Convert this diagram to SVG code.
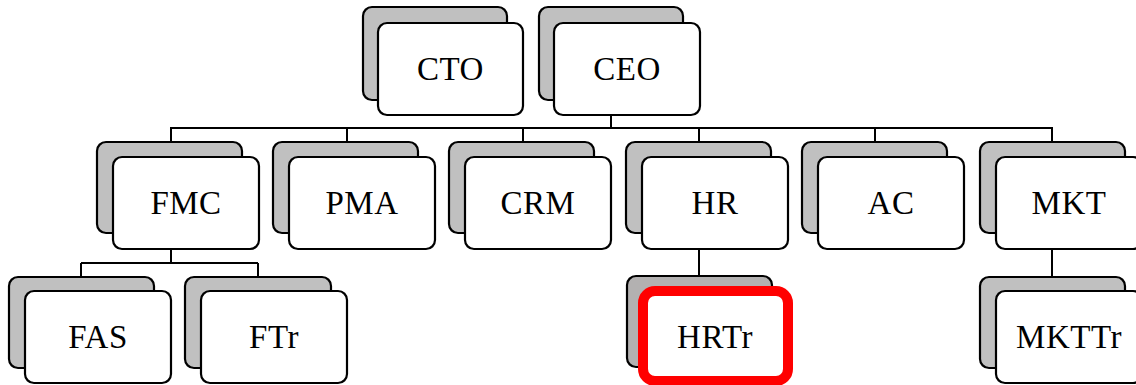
<svg xmlns="http://www.w3.org/2000/svg" width="1136" height="385" viewBox="0 0 1136 385">
  <style>
    .back { fill: #c0c0c0; stroke: #000; stroke-width: 2.2; }
    .front { fill: #fff; stroke: #000; stroke-width: 2.2; }
    .hl { fill: #fff; stroke: #ff0000; stroke-width: 10; }
    .lbl { font-family: "Liberation Serif", "Times New Roman", serif; font-size: 33px; letter-spacing: 0.5px; fill: #000; text-anchor: middle; }
    .conn { fill: none; stroke: #000; stroke-width: 2; }
  </style>
  <rect width="1136" height="385" fill="#fff"/>

  <!-- connectors -->
  <g id="connectors">
    <path class="conn" d="M611 115 V128 M170 128 H1053 M171 128 V142 M347 128 V142 M523 128 V142 M699 128 V142 M875 128 V142 M1052 128 V142"/>
    <path class="conn" d="M171 249 V263 M81 263 H258 M81 263 V277 M258 263 V277"/>
    <path class="conn" d="M699 249 V276"/>
    <path class="conn" d="M1052 249 V277"/>
  </g>

  <!-- top row -->
  <g id="cto">
    <rect class="back" x="363" y="7" width="144" height="93" rx="9"/>
    <rect class="front" x="378" y="23" width="145" height="92" rx="9"/>
    <text class="lbl" x="450.5" y="80">CTO</text>
  </g>
  <g id="ceo">
    <rect class="back" x="539" y="7" width="144" height="93" rx="9"/>
    <rect class="front" x="554" y="23" width="146" height="92" rx="9"/>
    <text class="lbl" x="627" y="80">CEO</text>
  </g>

  <!-- second row -->
  <g id="fmc">
    <rect class="back" x="97" y="142" width="145" height="91" rx="9"/>
    <rect class="front" x="113" y="157" width="146" height="92" rx="9"/>
    <text class="lbl" x="186" y="214">FMC</text>
  </g>
  <g id="pma">
    <rect class="back" x="273" y="142" width="145" height="91" rx="9"/>
    <rect class="front" x="289" y="157" width="146" height="92" rx="9"/>
    <text class="lbl" x="362" y="214">PMA</text>
  </g>
  <g id="crm">
    <rect class="back" x="449" y="142" width="145" height="91" rx="9"/>
    <rect class="front" x="465" y="157" width="146" height="92" rx="9"/>
    <text class="lbl" x="538" y="214">CRM</text>
  </g>
  <g id="hr">
    <rect class="back" x="626" y="142" width="145" height="91" rx="9"/>
    <rect class="front" x="642" y="157" width="146" height="92" rx="9"/>
    <text class="lbl" x="715" y="214">HR</text>
  </g>
  <g id="ac">
    <rect class="back" x="802" y="142" width="145" height="91" rx="9"/>
    <rect class="front" x="818" y="157" width="146" height="92" rx="9"/>
    <text class="lbl" x="891" y="214">AC</text>
  </g>
  <g id="mkt">
    <rect class="back" x="980" y="142" width="145" height="91" rx="9"/>
    <rect class="front" x="996" y="157" width="146" height="92" rx="9"/>
    <text class="lbl" x="1069" y="214">MKT</text>
  </g>

  <!-- third row -->
  <g id="fas">
    <rect class="back" x="9" y="277" width="145" height="91" rx="9"/>
    <rect class="front" x="25" y="291" width="146" height="92" rx="9"/>
    <text class="lbl" x="98" y="348">FAS</text>
  </g>
  <g id="ftr">
    <rect class="back" x="185" y="277" width="146" height="91" rx="9"/>
    <rect class="front" x="201" y="291" width="146" height="92" rx="9"/>
    <text class="lbl" x="274" y="348">FTr</text>
  </g>
  <g id="hrtr">
    <rect class="back" x="627" y="276" width="145" height="91" rx="9" style="fill:#b3b1b1"/>
    <rect class="hl" x="643" y="291" width="145" height="90" rx="12"/>
    <text class="lbl" x="715" y="348">HRTr</text>
  </g>
  <g id="mkttr">
    <rect class="back" x="980" y="277" width="145" height="91" rx="9"/>
    <rect class="front" x="996" y="291" width="146" height="92" rx="9"/>
    <text class="lbl" x="1069" y="348">MKTTr</text>
  </g>
</svg>
